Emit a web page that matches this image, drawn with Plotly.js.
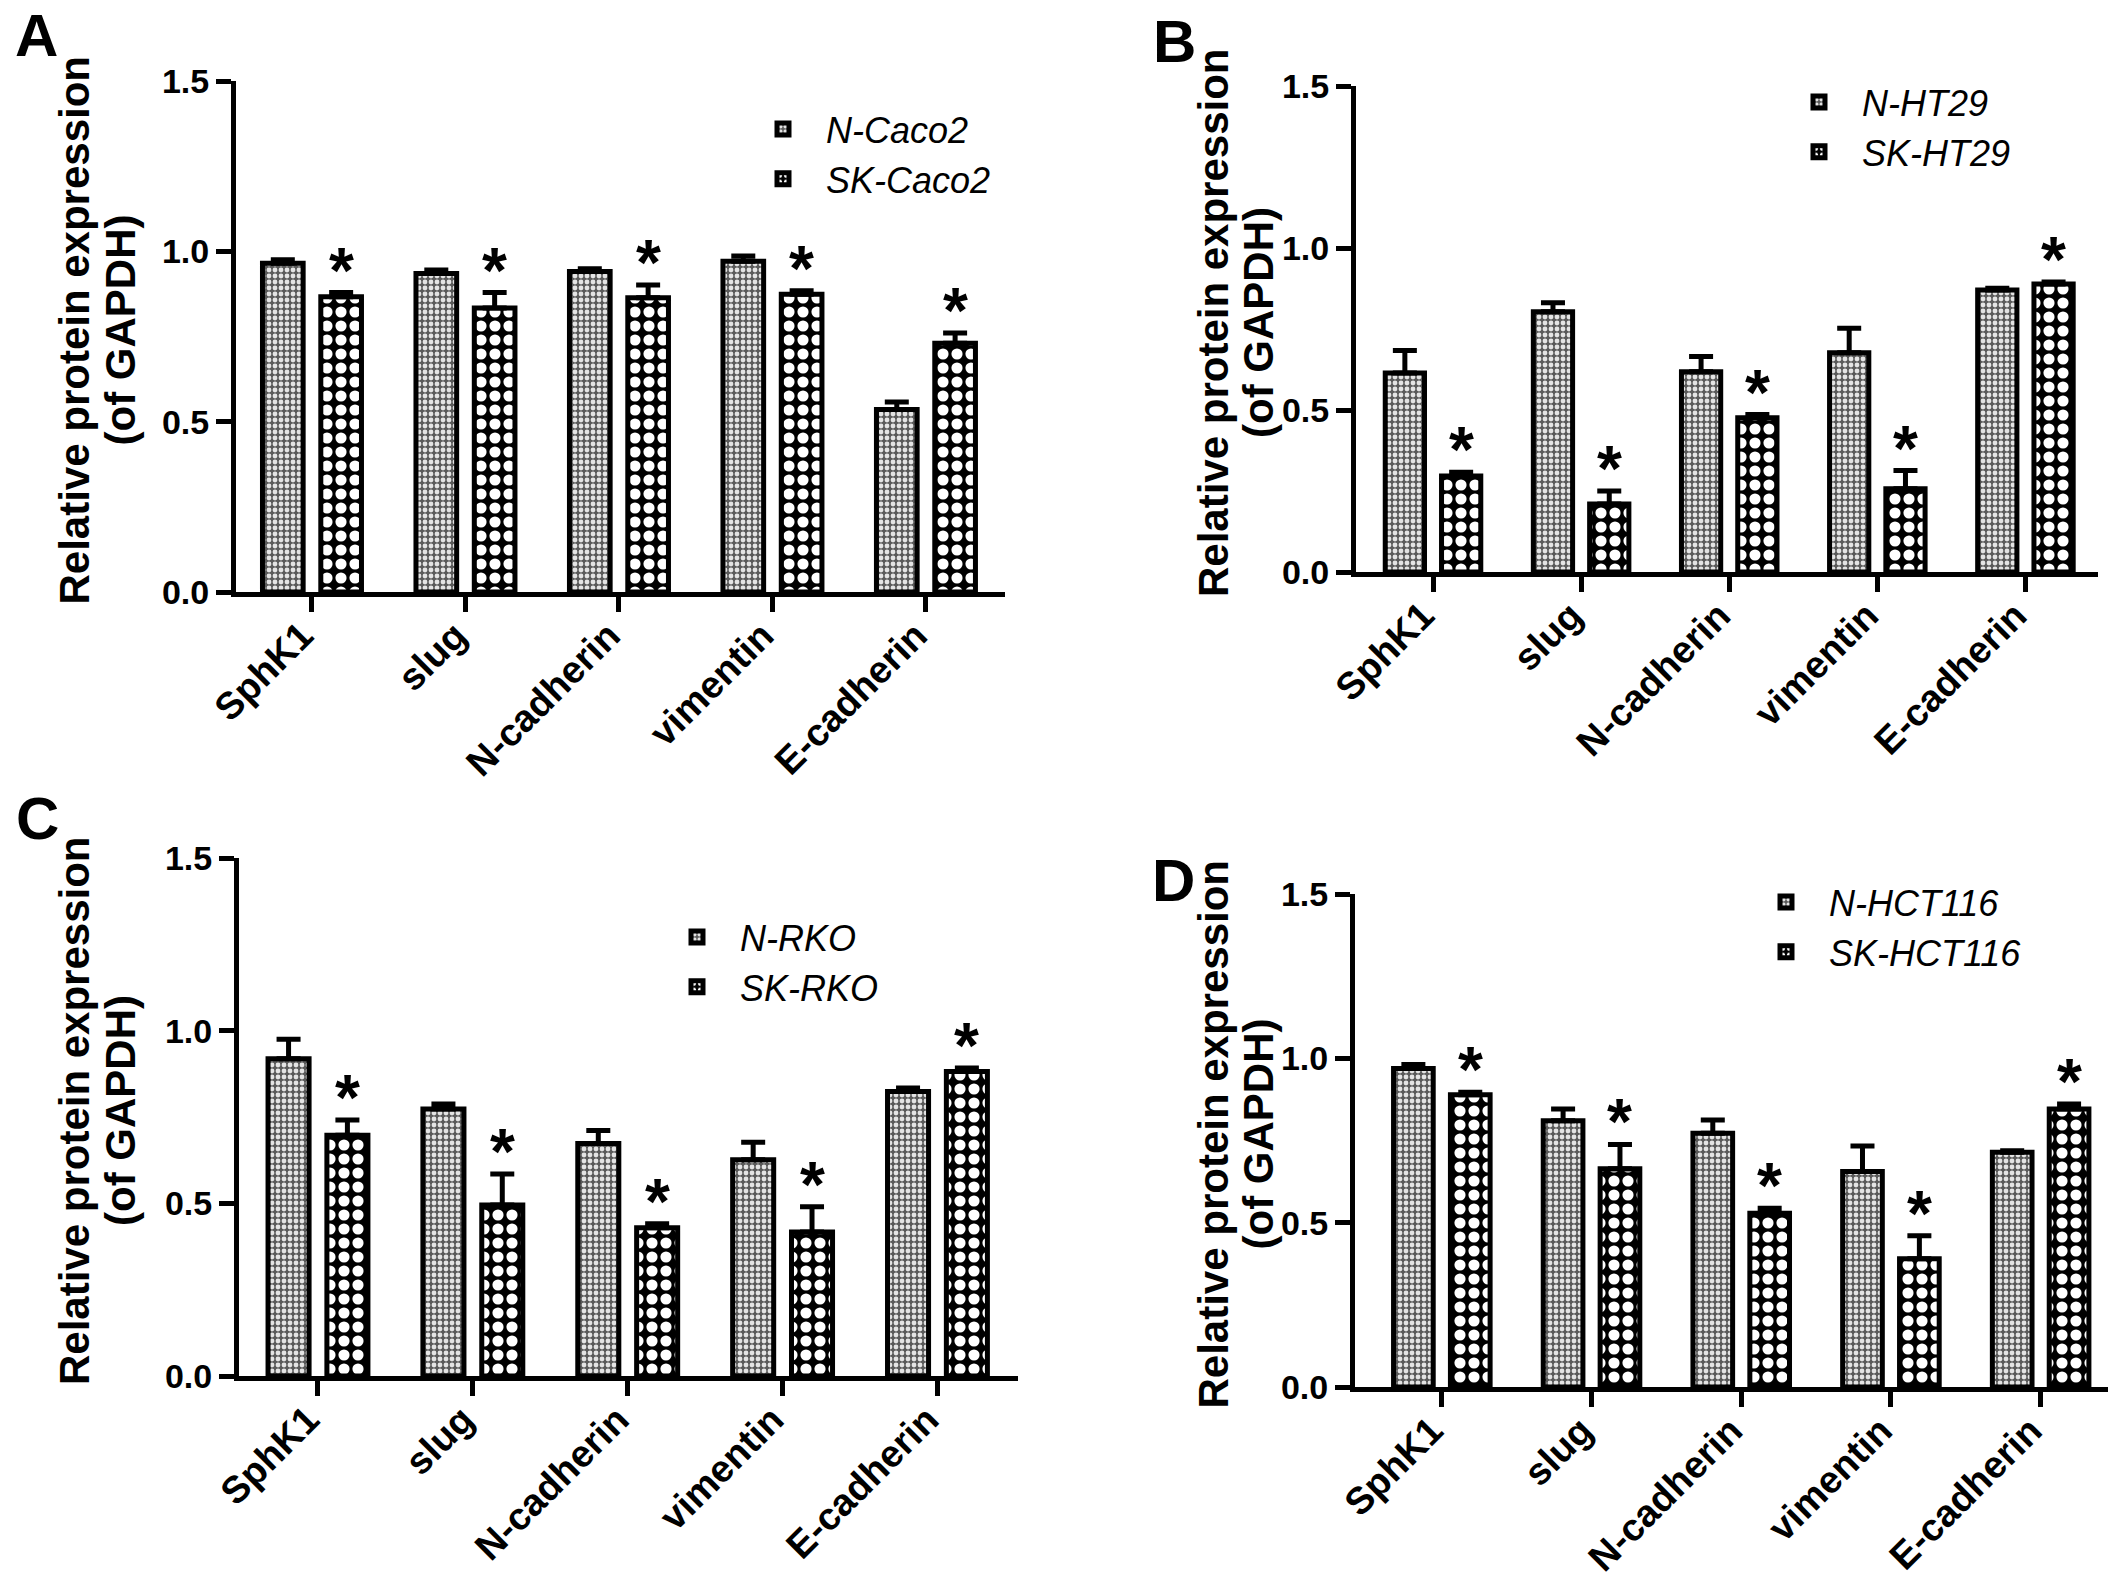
<!DOCTYPE html>
<html>
<head>
<meta charset="utf-8">
<script src="https://cdn.plot.ly/plotly-3.0.1.min.js"></script>
<style>
  html, body { margin: 0; padding: 0; background: #fff; }
  #chart { width: 2126px; height: 1589px; }
</style>
</head>
<body>
<div id="chart"></div>
<script>
// genes on the x axis (same for all four panels)
var categories = ['SphK1', 'slug', 'N-cadherin', 'vimentin', 'E-cadherin'];

// panel A - Caco2
var aNames = ['N-Caco2', 'SK-Caco2'];
var aN = [0.965, 0.935, 0.941, 0.971, 0.536];
var aNErr = [0.010, 0.010, 0.008, 0.015, 0.022];
var aSK = [0.867, 0.834, 0.864, 0.874, 0.730];
var aSKErr = [0.012, 0.045, 0.037, 0.010, 0.030];
var aStar = [1, 1, 1, 1, 1];

// panel B - HT29
var bNames = ['N-HT29', 'SK-HT29'];
var bN = [0.614, 0.803, 0.618, 0.677, 0.870];
var bNErr = [0.070, 0.028, 0.047, 0.075, 0.006];
var bSK = [0.296, 0.210, 0.476, 0.257, 0.889];
var bSKErr = [0.012, 0.040, 0.010, 0.056, 0.006];
var bStar = [1, 1, 1, 1, 1];

// panel C - RKO
var cNames = ['N-RKO', 'SK-RKO'];
var cN = [0.919, 0.773, 0.673, 0.626, 0.824];
var cNErr = [0.056, 0.015, 0.038, 0.051, 0.010];
var cSK = [0.697, 0.495, 0.429, 0.417, 0.882];
var cSKErr = [0.044, 0.090, 0.012, 0.073, 0.010];
var cStar = [1, 1, 1, 1, 1];

// panel D - HCT116
var dNames = ['N-HCT116', 'SK-HCT116'];
var dN = [0.969, 0.810, 0.772, 0.656, 0.714];
var dNErr = [0.012, 0.036, 0.040, 0.077, 0.005];
var dSK = [0.889, 0.664, 0.529, 0.390, 0.846];
var dSKErr = [0.008, 0.074, 0.015, 0.070, 0.015];
var dStar = [1, 1, 1, 1, 1];

var yTitle = ['Relative protein expression', '(of GAPDH)'];

var FONT = 'Liberation Sans, Arial, sans-serif';
var W = 2126, H = 1589;
var barW = 0.265, nOff = -0.3225, skOff = 0.0575;

// pixel boxes of the plot areas [left, right, bottom(0.0), top(1.5)] and x ranges
var boxes = [
  [236, 1005, 592, 81],
  [1356, 2098, 572, 86],
  [239, 1018, 1376, 858],
  [1355, 2108, 1387, 894]
];
var xRanges = [[-0.495, 4.515], [-0.52, 4.49], [-0.51, 4.52], [-0.58, 4.45]];
// y title line centres (px from left)
var titleX = [[74, 120], [1213, 1258], [74, 120], [1213, 1258]];
// legend: swatch centre x, first row centre y (px)
var legendPos = [[784, 130], [1820, 103], [698, 938], [1787, 903]];
var letters = [['A', 36, 36], ['B', 1174, 42], ['C', 37, 818], ['D', 1173, 880]];

var panels = [
  [aNames, aN, aNErr, aSK, aSKErr, aStar],
  [bNames, bN, bNErr, bSK, bSKErr, bStar],
  [cNames, cN, cNErr, cSK, cSKErr, cStar],
  [dNames, dN, dNErr, dSK, dSKErr, dStar]
];

var data = [];
var layout = {
  width: W, height: H,
  margin: {l: 0, r: 0, t: 0, b: 0},
  paper_bgcolor: '#fff', plot_bgcolor: 'rgba(0,0,0,0)',
  font: {family: FONT, color: '#000'},
  barmode: 'overlay',
  showlegend: true,
  annotations: []
};

panels.forEach(function(p, k) {
  var sfx = k === 0 ? '' : String(k + 1);
  var xa = 'x' + sfx, ya = 'y' + sfx;
  var lg = 'legend' + sfx;
  var box = boxes[k];

  data.push({
    type: 'bar', x: categories, y: p[1], name: p[0][0],
    xaxis: xa, yaxis: ya, legend: lg, legendgroup: 'n' + k,
    width: barW, offset: nOff,
    marker: {
      color: '#5a5a5a',
      line: {color: '#000', width: 5},
      pattern: {shape: '.', bgcolor: '#5a5a5a', fgcolor: '#e4e4e4', size: 6, solidity: 0.5, fillmode: 'replace'}
    },
    error_y: {type: 'data', array: p[2], arrayminus: p[2].map(function() { return 0; }),
      symmetric: false, color: '#000', thickness: 5, width: 12},
    hoverinfo: 'skip'
  });
  data.push({
    type: 'bar', x: categories, y: p[3], name: p[0][1],
    xaxis: xa, yaxis: ya, legend: lg, legendgroup: 's' + k,
    width: barW, offset: skOff,
    marker: {
      color: '#000',
      line: {color: '#000', width: 5},
      pattern: {shape: '.', bgcolor: '#000', fgcolor: '#fff', size: 14, solidity: 0.5, fillmode: 'replace'}
    },
    error_y: {type: 'data', array: p[4], arrayminus: p[4].map(function() { return 0; }),
      symmetric: false, color: '#000', thickness: 5, width: 12},
    hoverinfo: 'skip'
  });

  layout['xaxis' + sfx] = {
    domain: [box[0] / W, box[1] / W], anchor: ya,
    type: 'category', range: xRanges[k],
    showline: true, linecolor: '#000', linewidth: 5,
    ticks: 'outside', ticklen: 15, tickwidth: 5, tickcolor: '#000',
    tickangle: -45, tickfont: {family: FONT, size: 38, weight: 'bold'},
    ticklabelstandoff: -14, ticklabelshift: -10,
    showgrid: false, zeroline: false, fixedrange: true
  };
  layout['yaxis' + sfx] = {
    domain: [1 - box[2] / H, 1 - box[3] / H], anchor: xa,
    range: [0, 1.5], dtick: 0.5, tickformat: '.1f',
    showline: true, linecolor: '#000', linewidth: 5,
    ticks: 'outside', ticklen: 15, tickwidth: 5, tickcolor: '#000',
    tickfont: {family: FONT, size: 34, weight: 'bold'},
    showgrid: false, zeroline: false, fixedrange: true
  };
  layout[lg] = {
    x: (legendPos[k][0] - 44) / W, y: 1 - (legendPos[k][1] - 31) / H,
    xanchor: 'left', yanchor: 'top',
    bgcolor: 'rgba(0,0,0,0)', borderwidth: 0,
    itemwidth: 76, tracegroupgap: 0,
    font: {family: FONT, size: 36, style: 'italic'}
  };

  // two-line y axis title
  yTitle.forEach(function(t, j) {
    layout.annotations.push({
      xref: 'paper', yref: ya + ' domain', x: titleX[k][j] / W, y: 0.5, yshift: 6,
      xanchor: 'center', yanchor: 'middle', textangle: -90, showarrow: false,
      text: t, font: {family: FONT, size: 42, weight: 'bold', color: '#000'}
    });
  });

  // significance stars above the SK bars
  p[5].forEach(function(s, i) {
    if (!s) return;
    layout.annotations.push({
      xref: xa, yref: ya, x: i + skOff + barW / 2, y: p[3][i] + p[4][i],
      text: '*', showarrow: false, yanchor: 'middle', yshift: 22,
      font: {family: FONT, size: 64, weight: 'bold', color: '#000'}
    });
  });

  layout.annotations.push({
    xref: 'paper', yref: 'paper', x: letters[k][1] / W, y: 1 - letters[k][2] / H,
    xanchor: 'center', yanchor: 'middle', showarrow: false,
    text: '<b>' + letters[k][0] + '</b>',
    font: {family: FONT, size: 60, color: '#000'}
  });
});

Plotly.newPlot('chart', data, layout, {displayModeBar: false, staticPlot: true});
</script>
</body>
</html>
